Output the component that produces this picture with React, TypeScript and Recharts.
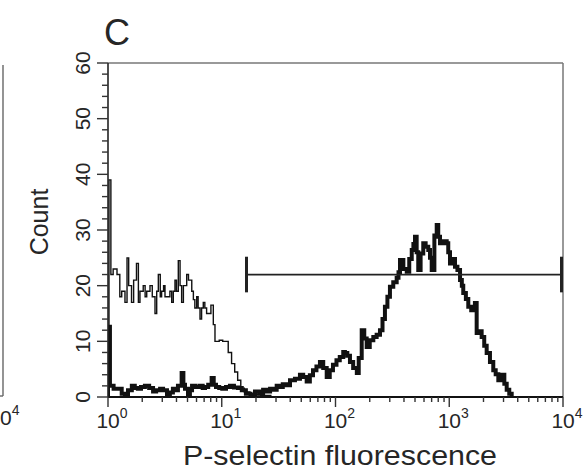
import { Label, Line, LineChart, ReferenceLine, XAxis, YAxis } from 'recharts';

// P-selectin histogram, panel C. [fluorescence, count]
const controlHist: [number, number][] = [
  [1, 0], [1.02, 39], [1.06, 22], [1.11, 23], [1.2, 22], [1.27, 18], [1.32, 19], [1.41, 17],
  [1.47, 25], [1.52, 20], [1.61, 17], [1.68, 21], [1.78, 24], [1.85, 17], [1.91, 19],
  [2.04, 20], [2.12, 18], [2.19, 19], [2.34, 20], [2.45, 18], [2.59, 15], [2.68, 19],
  [2.77, 22], [2.88, 18], [2.96, 19], [3.08, 20], [3.17, 18], [3.39, 18], [3.5, 19],
  [3.63, 17], [3.75, 19], [3.88, 21], [4.0, 19], [4.15, 24.5], [4.3, 20], [4.44, 17],
  [4.6, 20], [4.92, 22], [5.1, 21], [5.26, 21], [5.45, 19], [5.63, 17.5], [5.8, 16],
  [6.02, 18], [6.2, 16], [6.44, 14], [6.65, 16], [6.88, 17], [7.1, 16], [7.36, 15],
  [7.7, 15], [8.03, 16.5], [8.43, 13], [8.72, 10], [9.5, 10.2], [10.2, 10], [10.7, 10],
  [11.4, 8], [12.2, 6], [13, 4.5], [13.8, 3], [14.7, 1.6], [15.8, 0.9], [17.7, 0.4],
  [22, 0.3], [27, 0],
];

const pselHist: [number, number][] = [
  [1, 0], [1, 12.6], [1.04, 2], [1.12, 1.5], [1.22, 1.5], [1.32, 0.6], [1.41, 0.5],
  [1.5, 1.2], [1.62, 2], [1.72, 1.6], [1.83, 1.5], [1.95, 1.8], [2.11, 2], [2.3, 1.6],
  [2.49, 1], [2.65, 1.2], [2.87, 1.5], [3.05, 1.2], [3.3, 0.3], [3.5, 0.8], [3.72, 1.5],
  [3.9, 1.2], [4.12, 2], [4.3, 2], [4.44, 4.3], [4.6, 2.2], [4.75, 1.5], [5.05, 0.2],
  [5.25, 1.2], [5.48, 2], [5.9, 1.8], [6.44, 2], [6.8, 1.6], [7.12, 1.8], [7.6, 2.2],
  [8.15, 3.4], [8.5, 2.2], [8.9, 1.8], [9.5, 1.6], [10.1, 1.5], [10.9, 1.8], [11.8, 2],
  [12.8, 1.7], [13.9, 1.6], [15, 1.2], [16.3, 0.6], [17.9, 0.4], [19.6, 1], [21.3, 0.6],
  [23.1, 1.3], [24.8, 1], [26.6, 1.5], [28.5, 1.3], [30.4, 2], [32.4, 1.8], [34.4, 2.3],
  [37, 2.1], [39.8, 3], [44, 3.3], [48.7, 4], [52, 3.6], [55.8, 2.8], [59.5, 3.9],
  [63.4, 4.8], [68, 5.5], [73, 6.3], [78, 5.2], [83.7, 3.6], [89, 4.8], [95, 5.8],
  [102, 6.6], [109, 7.2], [117, 8.1], [121, 7.9], [127, 7.4], [134, 6.3], [143, 5.2],
  [154, 4.3], [160, 7], [170, 12], [179, 10.5], [188, 9], [200, 10.2], [215, 10.8],
  [230, 11.2], [246, 12], [259, 14], [272, 16.2], [286, 18], [301, 19.8], [322, 20.6],
  [345, 21.4], [358, 22.4], [369, 24.6], [395, 23], [423, 22.5], [445, 24.8], [468, 26.4],
  [484, 27.5], [500, 28.8], [517, 26], [534, 22.8], [560, 25.8], [591, 27.6], [620, 27],
  [654, 26.4], [677, 25], [701, 22.8], [740, 29], [776, 30.9], [800, 28.8], [829, 27.6],
  [890, 28], [950, 27.6], [980, 26], [1015, 24], [1070, 24.8], [1123, 23.4], [1180, 22.8],
  [1244, 21], [1290, 20], [1328, 18.7], [1400, 17.6], [1470, 16.2], [1560, 15.6],
  [1681, 16.9], [1742, 11.5], [1830, 11.8], [1927, 10.8], [2030, 9.2], [2133, 7.9],
  [2280, 6.3], [2438, 4.8], [2560, 4.1], [2700, 3], [2891, 4], [3050, 2.4], [3199, 1.3],
  [3370, 0.6], [3540, 0],
];

const majorX = [1, 10, 100, 1000, 10000];
const minorMult = [2, 3, 4, 5, 6, 7, 8, 9];
const gateLo = 16.5;
const gateHi = 9700;
const gateCount = 22;

const xTicks = [
  ...majorX,
  ...majorX.slice(0, -1).flatMap((d) => minorMult.map((m) => d * m)),
].sort((a, b) => a - b);
const yTicks = Array.from({ length: 31 }, (_, i) => i * 2);

const controlData = controlHist.map(([x, y]) => ({ x, y }));
const pselData = pselHist.map(([x, y]) => ({ x, y }));

const FONT = '"Liberation Sans", Arial, Helvetica, sans-serif';
const INK = '#262626';

function XTick(props: any) {
  const { x, y, payload } = props;
  const v = payload.value;
  const major = majorX.includes(v);
  return (
    <g>
      <line x1={x} x2={x} y1={y} y2={y + (major ? 10 : 5)} stroke="#333" strokeWidth={1.4} />
      {major && (
        <text x={x + 4} y={y + 31} textAnchor="middle" fontFamily={FONT} fill={INK}>
          <tspan fontSize={21}>10</tspan>
          <tspan fontSize={14} dy={-10}>{Math.round(Math.log10(v))}</tspan>
        </text>
      )}
    </g>
  );
}

function YTick(props: any) {
  const { x, y, payload } = props;
  const v = payload.value;
  const major = v % 10 === 0;
  const lx = x - 18;
  return (
    <g>
      <line x1={x - (major ? 11 : 6)} x2={x} y1={y} y2={y} stroke="#333" strokeWidth={1.4} />
      {major && (
        <text
          x={lx}
          y={y}
          transform={`rotate(-90, ${lx}, ${y})`}
          textAnchor="middle"
          fontFamily={FONT}
          fontSize={21}
          fill={INK}
        >
          {v}
        </text>
      )}
    </g>
  );
}

export default function App() {
  return (
    <div style={{ position: 'absolute', left: 0, top: 0, width: 588, height: 473, background: '#fff' }}>
      <LineChart width={588} height={473} margin={{ top: 63, right: 25, bottom: 36, left: 48 }}>
        <XAxis
          dataKey="x"
          type="number"
          scale="log"
          domain={[1, 10000]}
          ticks={xTicks}
          allowDataOverflow
          interval={0}
          height={40}
          tickSize={0}
          tickMargin={0}
          tickLine={false}
          tick={<XTick />}
          axisLine={{ stroke: '#111', strokeWidth: 2.2 }}
        >
          <Label
            content={() => (
              <text
                x={340}
                y={465}
                textAnchor="middle"
                fontFamily={FONT}
                fontSize={28}
                textLength={314}
                lengthAdjust="spacingAndGlyphs"
                fill={INK}
              >
                P-selectin fluorescence
              </text>
            )}
          />
        </XAxis>
        <YAxis
          type="number"
          domain={[0, 60]}
          ticks={yTicks}
          allowDataOverflow
          interval={0}
          width={60}
          tickSize={0}
          tickMargin={0}
          tickLine={false}
          tick={<YTick />}
          axisLine={{ stroke: '#222', strokeWidth: 1.6 }}
        >
          <Label
            content={() => (
              <text
                x={48}
                y={222}
                transform="rotate(-90, 48, 222)"
                textAnchor="middle"
                fontFamily={FONT}
                fontSize={25}
                fill={INK}
              >
                Count
              </text>
            )}
          />
        </YAxis>
        <ReferenceLine y={60} stroke="#777" strokeWidth={1.5} ifOverflow="visible" />
        <ReferenceLine x={10000} stroke="#777" strokeWidth={1.5} ifOverflow="visible" />
        <Line
          data={controlData}
          dataKey="y"
          type="stepAfter"
          stroke="#111"
          strokeWidth={1.4}
          dot={false}
          isAnimationActive={false}
        />
        <Line
          data={pselData}
          dataKey="y"
          type="stepAfter"
          stroke="#111"
          strokeWidth={4}
          dot={false}
          isAnimationActive={false}
        />
        <ReferenceLine
          segment={[{ x: gateLo, y: gateCount }, { x: gateHi, y: gateCount }]}
          stroke="#222"
          strokeWidth={1.8}
          ifOverflow="visible"
        />
        <ReferenceLine
          segment={[{ x: gateLo, y: gateCount - 3.2 }, { x: gateLo, y: gateCount + 3.2 }]}
          stroke="#222"
          strokeWidth={3}
          ifOverflow="visible"
        />
        <ReferenceLine
          segment={[{ x: gateHi, y: gateCount - 3.2 }, { x: gateHi, y: gateCount + 3.2 }]}
          stroke="#222"
          strokeWidth={3}
          ifOverflow="visible"
        />
      </LineChart>
      <svg
        width={588}
        height={473}
        style={{ position: 'absolute', left: 0, top: 0, pointerEvents: 'none' }}
      >
        <text x={104} y={45} fontFamily={FONT} fontSize={36} fill={INK}>
          C
        </text>
        {/* right edge of the neighbouring panel B, only its last tick label shows */}
        <line x1={3} x2={3} y1={65} y2={396} stroke="#666" strokeWidth={1.4} />
        <line x1={0} x2={3} y1={396} y2={396} stroke="#666" strokeWidth={1.4} />
        <text x={0} y={425} fontFamily={FONT} fill={INK}>
          <tspan fontSize={21}>0</tspan>
          <tspan fontSize={14} dy={-10}>4</tspan>
        </text>
      </svg>
    </div>
  );
}
